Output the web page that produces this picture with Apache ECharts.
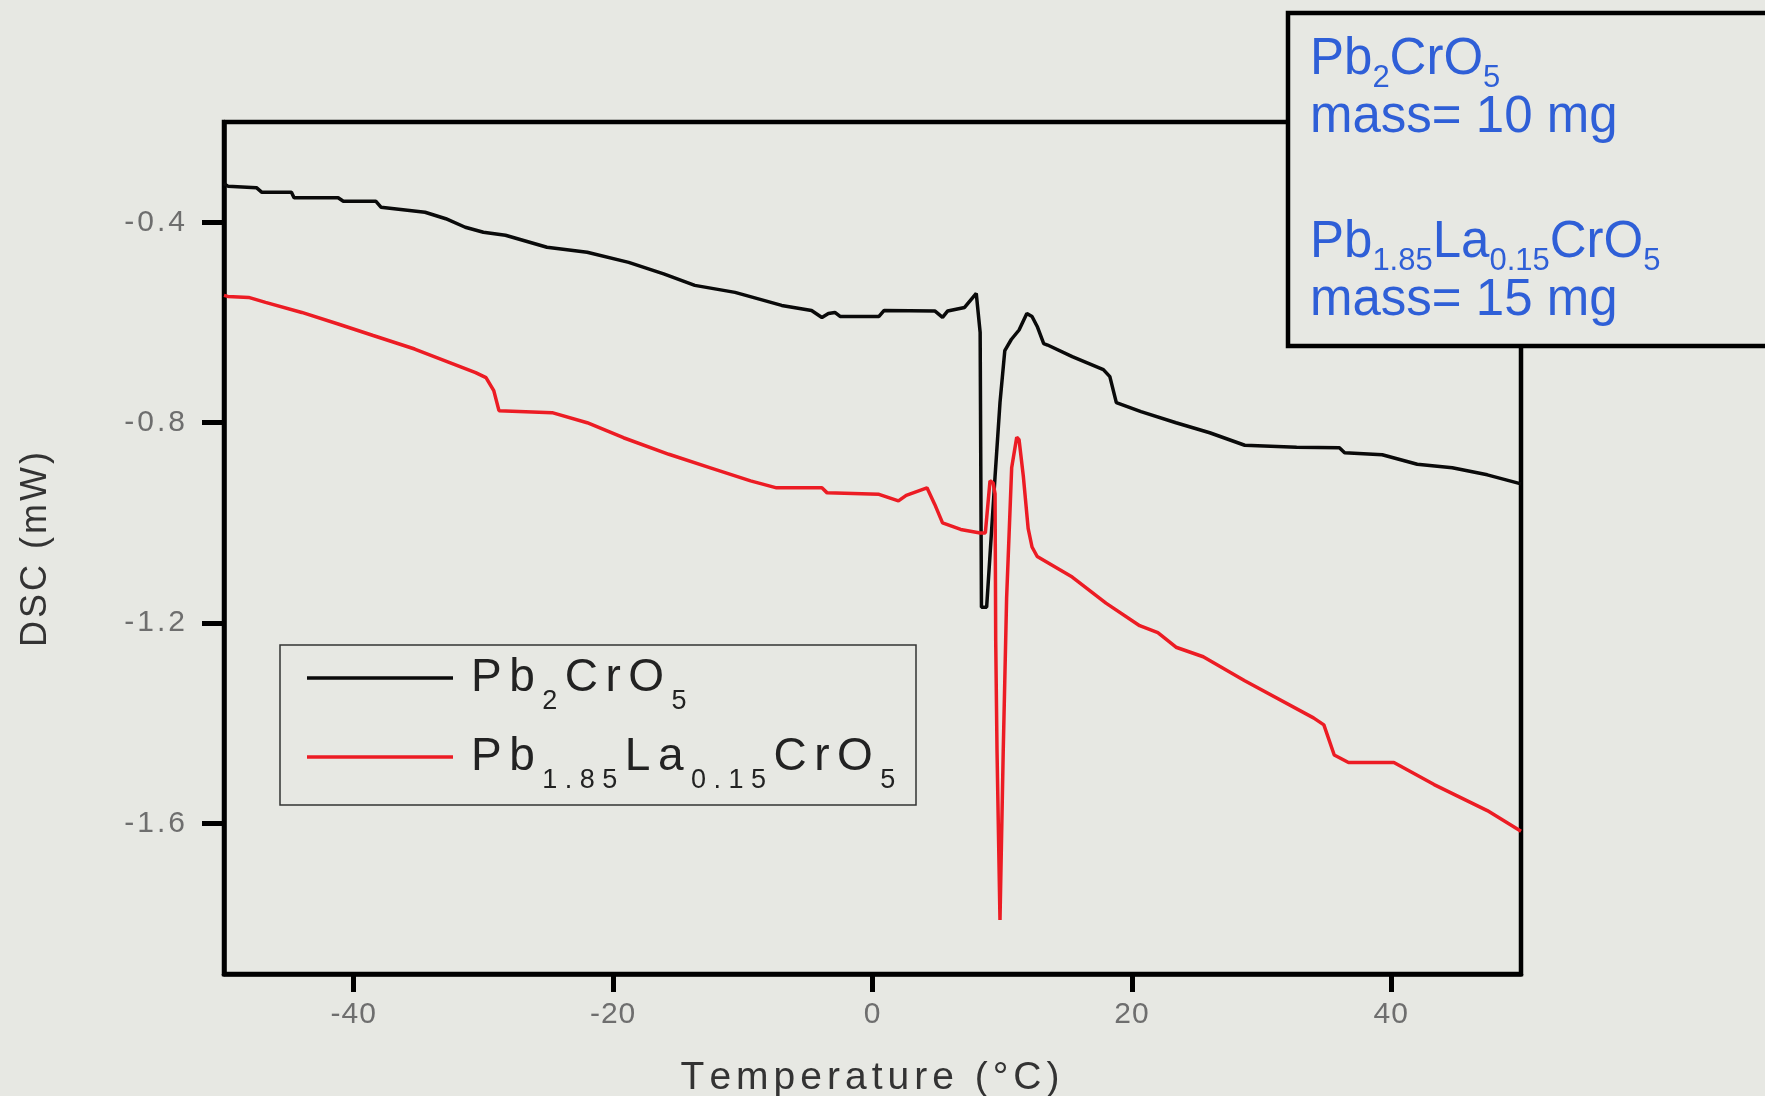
<!DOCTYPE html>
<html>
<head>
<meta charset="utf-8">
<title>DSC</title>
<script src="https://cdn.jsdelivr.net/npm/echarts@6.0.0/dist/echarts.min.js"></script>
<style>
  html, body { margin: 0; padding: 0; background: #e7e8e3; }
  #dsc-chart { width: 1765px; height: 1096px; }
</style>
</head>
<body>
<div id="dsc-chart"></div>
<script>
// Pb2CrO5 (black)
const pbTemp = [-50, -49.7, -47.5, -47.1, -44.8, -44.6, -41.2, -40.8, -38.3, -37.9, -34.5, -32.9, -31.4, -30.0, -28.3, -25.1, -22.0, -18.8, -16.1, -13.7, -10.6, -7.0, -4.7, -3.9, -3.4, -2.9, -2.5, 0.5, 0.9, 4.8, 5.4, 5.8, 7.1, 8.0, 8.3, 8.4, 8.8, 9.06, 9.45, 9.83, 10.2, 10.7, 11.3, 11.9, 12.3, 12.7, 13.2, 13.5, 15.4, 17.8, 18.3, 18.8, 20.7, 23.4, 26.0, 28.7, 32.7, 36.0, 36.4, 39.3, 42.0, 44.7, 47.4, 50];
const pbDsc = [-0.323, -0.328, -0.331, -0.340, -0.340, -0.351, -0.351, -0.358, -0.358, -0.370, -0.380, -0.393, -0.410, -0.420, -0.426, -0.450, -0.460, -0.480, -0.503, -0.526, -0.540, -0.566, -0.576, -0.590, -0.582, -0.580, -0.588, -0.588, -0.576, -0.577, -0.590, -0.577, -0.570, -0.542, -0.620, -1.168, -1.168, -1.064, -0.907, -0.760, -0.656, -0.634, -0.615, -0.582, -0.588, -0.608, -0.642, -0.645, -0.668, -0.694, -0.708, -0.760, -0.778, -0.800, -0.820, -0.845, -0.849, -0.850, -0.860, -0.864, -0.883, -0.890, -0.904, -0.922];

// Pb1.85La0.15CrO5 (red)
const laTemp = [-50, -49.7, -48.1, -46.8, -44.0, -41.2, -38.5, -35.3, -32.6, -30.6, -29.8, -29.2, -28.8, -24.7, -22.0, -19.2, -15.7, -12.5, -9.4, -7.4, -3.9, -3.5, 0.5, 2.0, 2.6, 4.2, 4.8, 5.4, 6.8, 8.3, 8.7, 9.06, 9.3, 9.45, 9.5, 9.6, 9.83, 10.08, 10.34, 10.73, 11.12, 11.3, 11.63, 12.0, 12.3, 12.7, 15.4, 18.0, 20.6, 22.0, 23.4, 25.5, 28.7, 34.0, 34.8, 35.6, 36.7, 40.2, 43.3, 47.4, 50];
const laDsc = [-0.546, -0.548, -0.550, -0.560, -0.580, -0.603, -0.626, -0.653, -0.680, -0.700, -0.710, -0.736, -0.776, -0.780, -0.800, -0.830, -0.863, -0.890, -0.916, -0.930, -0.930, -0.940, -0.943, -0.956, -0.945, -0.930, -0.963, -1.000, -1.013, -1.020, -1.020, -0.916, -0.920, -0.942, -1.236, -1.454, -1.792, -1.454, -1.150, -0.890, -0.829, -0.834, -0.907, -1.011, -1.048, -1.067, -1.108, -1.160, -1.205, -1.219, -1.248, -1.267, -1.315, -1.389, -1.403, -1.463, -1.478, -1.478, -1.522, -1.574, -1.615];

const xTicks = [-40, -20, 0, 20, 40];
const yTicks = [-1.6, -1.2, -0.8, -0.4];

const legendNames = ['Pb2CrO5', 'Pb1.85La0.15CrO5'];
// formula pieces: [text, subscript?]
const formulas = {
  'Pb2CrO5': [['Pb', 0], ['2', 1], ['CrO', 0], ['5', 1]],
  'Pb1.85La0.15CrO5': [['Pb', 0], ['1.85', 1], ['La', 0], ['0.15', 1], ['CrO', 0], ['5', 1]]
};
const notes = [
  { name: 'Pb2CrO5', mass: 'mass= 10 mg' },
  { name: 'Pb1.85La0.15CrO5', mass: 'mass= 15 mg' }
];

const BG = '#e7e8e3';
const FONT = "'Liberation Sans', Arial, sans-serif";
const BLUE = '#2f5fd7';

// one rich token per char, gives the wide letter spacing of the original
function spaced(text, style) {
  return text.split('').map(c => '{' + style + '|' + c + '}').join('');
}

function legendText(name) {
  let s = formulas[name].map(p => spaced(p[0], p[1] ? 's' : 'm')).join('');
  return s.replace('{m|', '{f|');
}

function noteText(name) {
  return formulas[name].map(p => '{' + (p[1] ? 's' : 'm') + '|' + p[0] + '}').join('');
}

let chart = echarts.init(document.getElementById('dsc-chart'));

const noteRich = {
  m: { fontFamily: FONT, fontSize: 51, lineHeight: 60, verticalAlign: 'top', fill: BLUE },
  s: { fontFamily: FONT, fontSize: 31, lineHeight: 31, verticalAlign: 'top', padding: [29, 0, 0, 0], fill: BLUE }
};
const noteTops = [34, 92, 217, 275];
let noteTexts = [];
notes.forEach(n => {
  noteTexts.push(noteText(n.name));
  noteTexts.push('{m|' + n.mass + '}');
});

let option = {
  backgroundColor: BG,
  animation: false,
  grid: {
    left: 224, right: 244, top: 122, bottom: 122,
    outerBoundsMode: 'none',
    show: true, borderColor: '#000', borderWidth: 4.5, backgroundColor: 'transparent'
  },
  xAxis: {
    type: 'value', min: -50, max: 50,
    name: spaced('Temperature (°C)', 'n'),
    nameLocation: 'middle', nameGap: 85,
    nameTextStyle: {
      rich: { n: { fontFamily: FONT, fontSize: 39, color: '#333', padding: [0, 5, 0, 0] } }
    },
    axisLine: { show: true, onZero: false, lineStyle: { color: '#000', width: 4.5 } },
    axisTick: { show: true, customValues: xTicks, length: 18, lineStyle: { color: '#000', width: 5 } },
    axisLabel: {
      customValues: xTicks, margin: 26,
      formatter: v => spaced(String(v), 'a'),
      rich: { a: { fontFamily: FONT, fontSize: 30, color: '#6e6e6e', padding: [0, 1, 0, 0] } }
    },
    splitLine: { show: false }
  },
  yAxis: {
    type: 'value', min: -1.9, max: -0.2,
    name: spaced('DSC (mW)', 'n'),
    nameLocation: 'middle', nameGap: 170,
    nameTextStyle: {
      rich: { n: { fontFamily: FONT, fontSize: 36, color: '#333', padding: [0, 3, 0, 0] } }
    },
    axisLine: { show: true, onZero: false, lineStyle: { color: '#000', width: 4.5 } },
    axisTick: { show: true, customValues: yTicks, length: 22, lineStyle: { color: '#000', width: 5 } },
    axisLabel: {
      customValues: yTicks, margin: 36,
      formatter: v => spaced(v.toFixed(1), 'a'),
      rich: { a: { fontFamily: FONT, fontSize: 30, color: '#6e6e6e', padding: [0, 3, 0, 0] } }
    },
    splitLine: { show: false }
  },
  legend: {
    data: legendNames,
    orient: 'vertical', left: 307, top: 638, padding: 0, itemGap: 2,
    itemWidth: 146, itemHeight: 3.5, icon: 'rect', selectedMode: false,
    formatter: legendText,
    textStyle: {
      rich: {
        f: { fontFamily: FONT, fontSize: 46, lineHeight: 80, verticalAlign: 'middle', color: '#222', padding: [0, 7.5, 0, 13] },
        m: { fontFamily: FONT, fontSize: 46, lineHeight: 80, verticalAlign: 'middle', color: '#222', padding: [0, 7.5, 0, 0] },
        s: { fontFamily: FONT, fontSize: 27, lineHeight: 27, verticalAlign: 'top', color: '#222', padding: [50, 7.5, 0, 0] }
      }
    }
  },
  graphic: [
    { type: 'rect', z: 50, shape: { x: 280, y: 645, width: 636, height: 160 },
      style: { fill: 'none', stroke: '#333', lineWidth: 1.5 } },
    { type: 'rect', z: 100, shape: { x: 1288, y: 13, width: 520, height: 333 },
      style: { fill: BG, stroke: '#000', lineWidth: 4.5 } }
  ].concat(noteTexts.map((t, i) => ({
    type: 'text', z: 101, x: 1310, y: noteTops[i],
    style: { text: t, rich: noteRich, verticalAlign: 'top', fill: BLUE, fontFamily: FONT, fontSize: 51 }
  }))),
  series: [
    {
      name: legendNames[0], type: 'line', symbol: 'none',
      data: pbTemp.map((t, i) => [t, pbDsc[i]]),
      itemStyle: { color: '#0a0a0a' },
      lineStyle: { color: '#0a0a0a', width: 3.5 }
    },
    {
      name: legendNames[1], type: 'line', symbol: 'none',
      data: laTemp.map((t, i) => [t, laDsc[i]]),
      itemStyle: { color: '#ec1c24' },
      lineStyle: { color: '#ec1c24', width: 3.5 }
    }
  ]
};

chart.setOption(option);
</script>
</body>
</html>
